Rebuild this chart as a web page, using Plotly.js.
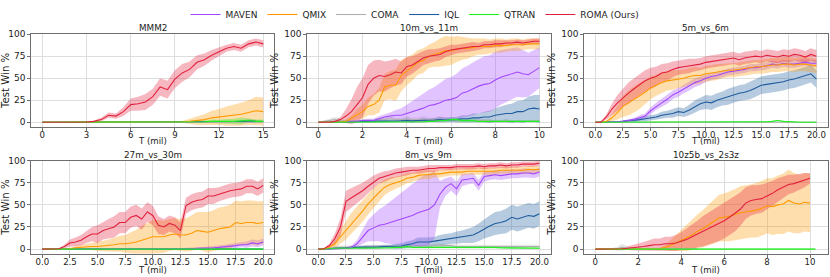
<!DOCTYPE html>
<html><head><meta charset="utf-8">
<script src="https://cdn.plot.ly/plotly-3.0.1.min.js"></script>
<style>html,body{margin:0;padding:0;background:#fff;}#chart{width:830px;height:277px;}</style>
</head><body><div id="chart"></div>
<script>
// ---------- data ----------
const methods = ['MAVEN','QMIX','COMA','IQL','QTRAN','ROMA (Ours)'];
const titles = ['MMM2','10m_vs_11m','5m_vs_6m','27m_vs_30m','8m_vs_9m','10z5b_vs_2s3z'];
const yTicks = [0,25,50,75,100];
const xTicksMMM2 = [0,3,6,9,12,15];
const xTicks10 = [0,2,4,6,8,10];
const xTicks20 = [0,2.5,5,7.5,10,12.5,15,17.5,20];
const xTickText20 = ['0.0','2.5','5.0','7.5','10.0','12.5','15.0','17.5','20.0'];
// sampling steps of T (mil) per panel
const stepMMM2 = 0.5, step10m = 0.25, step5m = 0.5, step27m = 0.5, step8m = 0.5, step10z = 0.25;

// MMM2
const mmm2_ROMA = [0,0,0,0,0,0,0.3,1,3,8,7,12,20,21,23,29,40,37,49,56,60,68,71,76,80,84,86,84,89,91,89];
const mmm2_ROMA_sd = [0,0,0,0,0,0,0.3,1,2,3,3,5,7,8,9,9,10,10,10,10,9,8,7,6,5,4,4,4,4,4,4];
const mmm2_QMIX = [0,0,0,0,0,0,0,0,0,0,0,0,0,0,0,0,0,0,0,0.5,1,2,3,5,6,7,8,9,11,13,12];
const mmm2_QMIX_sd = [0,0,0,0,0,0,0,0,0,0,0,0,0,0,0,0,0,0,0,1,3,5,6,8,9,11,12,13,14,16,16];
const mmm2_QTRAN = [0,0,0,0,0,0,0,0,0,0,0,0,0,0,0,0,0,0,0.3,0.5,0.5,0.8,0.5,1,0.8,1.2,1,1.5,2,1,1];
const mmm2_QTRAN_sd = [0.8,0.8,0.8,0.8,0.8,0.8,0.8,0.8,0.8,0.8,0.8,0.8,0.8,0.8,0.8,0.8,0.8,0.8,1,1,1,1.5,1.5,2,2,2.5,3,4,2,2,2];
const mmm2_IQL = [0,0,0,0,0,0,0,0,0,0,0,0,0,0,0,0,0,0,0.2,0.3,0.3,0.3,0.5,0.5,0.5,0.5,0.8,1,1.5,1,0.8];
const mmm2_IQL_sd = [0.3,0.3,0.3,0.3,0.3,0.3,0.3,0.3,0.3,0.3,0.3,0.3,0.3,0.3,0.3,0.3,0.3,0.3,0.5,0.5,0.5,0.5,0.5,0.5,0.5,0.5,0.5,1,2,1.5,1];
const mmm2_COMA = [0,0,0,0,0,0,0,0,0,0,0,0,0,0,0,0,0,0,0,0,0,0,0,0,0,0,0,0,0,0,0];
const mmm2_COMA_sd = [0.3,0.3,0.3,0.3,0.3,0.3,0.3,0.3,0.3,0.3,0.3,0.3,0.3,0.3,0.3,0.3,0.3,0.3,0.3,0.3,0.3,0.3,0.3,0.3,0.3,0.3,0.3,0.3,0.3,0.3,0.3];

// 10m_vs_11m
const m10_ROMA = [0,0,0,1,3,7,12,20,28,43,50,53,52,54,57,56,63,65,69,73,75,76,77,80,82,83,84,85,86,86,88,88,89,89,90,90,91,90,91,92,92];
const m10_ROMA_sd = [0,0,0.5,1,3,8,14,20,22,22,20,18,17,16,15,13,11,10,9,8,8,7,7,6,6,5,5,5,5,4,4,4,4,4,3,3,3,3,3,3,3];
const m10_QMIX = [0,0,0,0,0.5,1,5,9,12,18,20,25,40,42,42,53,58,62,68,70,75,77,79,81,81,83,84,84,85,86,86,86,87,87,87,88,88,88,89,89,89];
const m10_QMIX_sd = [0,0,0,0,1,2,3,6,8,10,12,14,15,16,18,18,16,15,14,14,13,14,16,17,16,15,13,12,10,9,9,8,8,8,7,7,7,6,6,6,6];
const m10_MAVEN = [0,0,0,0,0,0.5,1,1,2,2,2,4,6,7,8,8,10,12,14,16,19,20,22,25,26,28,33,35,38,41,43,44,48,51,53,55,57,55,54,58,62];
const m10_MAVEN_sd = [0,0,0,0,0,1,1,1,1,2,2,3,3,4,6,8,10,12,14,16,18,20,22,24,25,27,28,29,30,31,32,32,32,31,30,29,28,27,25,24,23];
const m10_IQL = [0,0,0,0,0,0,0.5,0.5,1,1,1,1,1.5,1,1,1.5,2,1.5,2,2,2,2.5,3,2.5,3,3,4,4,5,5,6,6,8,9,10,10,12,12,15,16,15];
const m10_IQL_sd = [0,0,0,0,0,0,1,1,1,1,1,1,1,1,1,1,2,2,2,2,2,2,3,3,3,3,4,4,5,5,6,7,8,9,10,11,12,13,14,15,16];
const m10_COMA = [0,1,2,3,2,1,1,1,2,2,2,3,3,4,3,3,4,3,3,4,3,3,4,3,3,2,2,2,2,2,2,2,1,1,2,1,1,1,1,1,1];
const m10_COMA_sd = [0,1,2,3,2,1,1,1,2,2,2,2,2,3,2,2,3,2,2,3,2,2,3,2,2,2,2,2,2,2,2,2,1,1,2,1,1,1,1,1,1];
const m10_QTRAN = [0,0,0,0,0,0,0,0,0.5,0.5,0.5,0.5,0.5,0.5,0.5,0.5,0.5,0.5,0.5,0.5,1,1,2,2,3,3,2,2,2,1,1,1,1,1,1,1,1,1,1,1,1];
const m10_QTRAN_sd = [0.5,0.5,0.5,0.5,0.5,0.5,0.5,0.5,1,1,1,1,1,1,1,1,1,1,1,1,1,1,1.5,2,2,2,2,1.5,1.5,1,1,1,1,1,1,1,1,1,1,1,1];

// 5m_vs_6m
const m5_ROMA = [0,0,6,15,22,28,33,38,43,47,50,52,56,57,60,62,63,64,65,66,68,69,70,71,72,73,71,73,74,75,74,76,75,74,76,75,77,76,74,77,75];
const m5_ROMA_sd = [0,0,3,6,9,10,12,12,12,12,12,11,10,10,9,8,8,8,7,7,7,7,7,7,7,7,7,7,7,7,7,7,7,7,7,7,7,7,7,7,7];
const m5_QMIX = [0,0,1,5,11,18,22,26,30,34,39,42,45,47,48,49,50,52,53,53,55,56,57,58,59,59,60,61,62,63,63,64,65,65,66,66,65,66,66,65,64];
const m5_QMIX_sd = [0,0,1,4,8,12,14,15,15,14,13,12,12,11,11,10,10,10,10,9,9,9,9,8,8,8,8,8,8,8,8,8,8,8,8,8,8,8,8,8,8];
const m5_MAVEN = [0,0,0,0,0.5,1,2,3,5,7,13,18,22,26,31,34,38,41,45,47,50,52,53,55,57,58,59,60,62,62,63,64,66,65,67,66,66,67,68,67,67];
const m5_MAVEN_sd = [0,0,0,0,0.5,1,1,2,3,3,4,4,5,5,5,5,5,5,5,5,4,4,4,4,4,4,4,4,4,4,4,4,4,4,4,4,4,4,4,4,4];
const m5_IQL = [0,0,0,0,0.5,1,1.5,2,3,4,5,6,8,9,10,12,11,14,18,21,23,22,25,27,29,31,33,34,36,39,42,43,44,45,46,48,49,51,53,55,49];
const m5_IQL_sd = [0,0,0,0,0.5,1,1,2,2,3,3,3,4,4,5,5,5,6,7,7,8,8,8,8,9,9,9,9,10,10,10,10,10,10,10,10,10,10,10,10,10];
const m5_QTRAN = [0,0,0,0,0,0,0,0,0,0,0,0,0,0,0,0,0,0,0,0,0,0,0,0,0,0,0,0,0,0,0,0.5,1,2,1,0.5,0,0,0,0,0];
const m5_QTRAN_sd = [0.7,0.7,0.7,0.7,0.7,0.7,0.7,0.7,0.7,0.7,0.7,0.7,0.7,0.7,0.7,0.7,0.7,0.7,0.7,0.7,0.7,0.7,0.7,0.7,0.7,0.7,0.7,0.7,0.7,0.7,0.7,0.7,0.7,0.7,0.7,0.7,0.7,0.7,0.7,0.7,0.7];
const m5_COMA = [0,0,0,0,0,0,0,0,0,0,0,0,0,0,0,0,0,0,0,0,0,0,0,0,0,0,0,0,0,0,0,0,0,0,0,0,0,0,0,0,0];
const m5_COMA_sd = [0.5,0.5,0.5,0.5,0.5,0.5,0.5,0.5,0.5,0.5,0.5,0.5,0.5,0.5,0.5,0.5,0.5,0.5,0.5,0.5,0.5,0.5,0.5,0.5,0.5,0.5,0.5,0.5,0.5,0.5,0.5,0.5,0.5,0.5,0.5,0.5,0.5,0.5,0.5,0.5,0.5];

// 27m_vs_30m
const m27_ROMA = [0,0,0,0.5,3,7,8,10,14,17,17,21,23,25,30,30,36,38,34,42,38,27,25,29,27,21,49,53,55,56,60,60,62,64,66,67,68,71,71,68,72];
const m27_ROMA_sd = [0,0,0,0.5,2,4,5,6,7,8,10,10,11,12,12,12,12,12,12,11,11,10,9,9,9,9,9,9,9,9,9,9,8,8,8,8,8,8,8,8,8];
const m27_QMIX = [0,0,0,0,0,0.5,1.5,2,3,3,3,3.5,4,5,6,6,7,8,10,12,14,14,14,16,17,16,16,18,21,20,19,21,23,24,25,30,29,30,30,29,30];
const m27_QMIX_sd = [0,0,0,0,0,1,2,3,3,4,5,6,7,8,9,10,12,14,16,18,19,19,18,18,18,18,19,20,21,22,23,23,24,24,25,25,25,25,25,25,24];
const m27_MAVEN = [0,0,0,0,0,0,0,0,0,0,0,0,0,0,0,0,0,0,0,0,0,0,0,0,0,0,0.5,0.5,1,1,1,1.5,2,2.5,3,4,5,5,7,6,8];
const m27_MAVEN_sd = [0.5,0.5,0.5,0.5,0.5,0.5,0.5,0.5,0.5,0.5,0.5,0.5,0.5,0.5,0.5,0.5,0.5,0.5,0.5,0.5,0.5,0.5,0.5,0.5,0.5,0.5,1,1,1,1.5,2,2,2,2.5,3,3,3,3.5,4,4,4];
const m27_IQL = [0,0,0,0,0,0,0,0,0,0,0,0,0,0,0,0,0,0,0,0,0,0,0,0,0,0,0,0,0,0,0,0,0,0,0,0,0,0,0,0,0];
const m27_IQL_sd = [0.5,0.5,0.5,0.5,0.5,0.5,0.5,0.5,0.5,0.5,0.5,0.5,0.5,0.5,0.5,0.5,0.5,0.5,0.5,0.5,0.5,0.5,0.5,0.5,0.5,0.5,0.5,0.5,0.5,0.5,0.5,0.5,0.5,0.5,0.5,0.5,0.5,0.5,0.5,0.5,0.5];
const m27_QTRAN = [0,0,0,0,0,0,0,0,0,0,0,0,0,0,0,0,0,0,0,0,0,0,0,0,0,0,0,0,0,0,0,0,0,0,0,0,0,0,0,0,0];
const m27_QTRAN_sd = [1,1,1,1,1,1,1,1,1,1,1,1,1,1,1,1,1,1,1,1,1,1,1,1,1,1,1,1,1,1,1,1,1,1,1,1,1,1,1,1,1];

// 8m_vs_9m
const m8_ROMA = [0,0.5,4,12,25,54,58,62,66,71,76,80,82,84,86,87,88,89,89,90,91,91,92,92,92,93,93,93,93,94,93,94,94,95,94,95,95,96,96,96,97];
const m8_ROMA_sd = [0,0.5,2,6,10,12,11,10,9,8,7,6,6,5,5,5,5,4,4,4,4,4,3,3,3,3,3,3,3,3,3,3,3,3,3,3,3,3,3,3,3];
const m8_QMIX = [0,0,2,6,14,21,29,36,43,51,58,64,70,73,75,77,80,81,83,84,84,85,85,86,87,87,87,88,88,88,88,88,88,89,89,89,89,89,90,90,90];
const m8_QMIX_sd = [0,0,1,4,8,10,12,12,12,12,11,10,9,8,7,6,6,5,5,5,5,4,4,4,4,4,4,4,4,4,4,4,4,4,4,4,4,4,4,4,4];
const m8_MAVEN = [0,0,0,0,0.5,1,2,6,14,21,24,27,28,30,32,34,36,38,41,43,45,50,62,70,74,68,78,79,80,72,82,83,84,83,84,85,85,86,86,85,87];
const m8_MAVEN_sd = [0,0,0,0,0.5,1,2,4,8,12,15,18,21,24,27,30,33,36,38,40,40,38,15,10,8,8,7,6,6,6,6,5,5,5,5,5,5,5,5,5,5];
const m8_IQL = [0,0,0.5,1,1,1.5,2,2,2,2,2,2.5,3,3,3,3.5,5,6,8,8,8,9,10,11,12,13,14,15,16,19,23,26,29,30,32,36,34,36,38,37,40];
const m8_IQL_sd = [0,0,1,1,1,1,1,1,2,2,2,2,2,2,3,3,4,4,5,5,5,5,6,6,6,7,7,8,9,10,11,12,13,13,14,14,14,14,14,14,14];
const m8_COMA = [0,0,1,2,2,2,2,2,2,3,3,3,3,3,3,3,3,3,3,3,3,4,4,4,4,3,3,3,3,3,3,3,3,3,3,3,3,3,3,3,3];
const m8_COMA_sd = [0,0,1,2,2,2,2,2,2,2,2,2,2,2,2,2,2,2,2,2,2,2,2,2,2,2,2,2,2,2,2,2,2,2,2,2,2,2,2,2,2];
const m8_QTRAN = [0,0,0.5,1,1,1,1,1,1,1,1,1.5,1.5,1.5,2,2,3,2,2,2,2,2,2,2,2,2,2,2,2.5,2.5,2.5,2,2,1.5,1.5,1.5,1,1,1,1,1];
const m8_QTRAN_sd = [0.5,0.5,1,1,1,1,1,1,1,1,1,1,1,1,1,1,2,1,1,1,1,1,1,1,1,1,1,1,1,1,1,1,1,1,1,1,1,1,1,1,1];

// 10z5b_vs_2s3z
const z10_ROMA = [0,0,0,0,0,0.5,1,1.5,2,3,4,5,5,6,6,7,9,11,14,17,20,23,26,29,32,36,40,45,52,55,56,57,60,63,67,70,73,74,76,78,80];
const z10_ROMA_sd = [0,0,0,0,0.5,1,2,3,4,5,6,7,7,8,8,9,10,12,14,15,17,18,19,20,20,20,20,19,18,17,16,16,15,14,13,12,11,10,9,8,6];
const z10_QMIX = [0,0,0,0,0,0,0,0,0,0,0,0,0.5,2,4,7,10,13,16,20,23,27,31,35,36,37,39,41,42,43,44,46,49,48,50,51,55,52,51,53,52];
const z10_QMIX_sd = [0,0,0,0,0,0,0,0,0,0,0,0,1,3,6,9,12,15,17,19,21,23,25,26,27,28,29,30,30,30,31,31,31,32,33,34,35,34,33,33,33];
const z10_COMA = [0,0,0,0,0.5,2,1,0.5,0.5,0.5,0.5,0.5,0.5,0.5,0.5,0.5,0.5,0.5,0.5,0.5];
const z10_COMA_sd = [0,0,0,1,2,4,2,1,1,1,1,1,1,1,1,1,1,1,1,1];
const z10_QTRAN = [0,0,0,0,0,0,0,0,0,0,0,0,0,0,0,0,0,0,0,0,0,0,0,0,0,0,0,0,0,0,0,0,0,0,0,0,0,0,0,0,0,0];
const z10_QTRAN_sd = [1,1,1,1,1,1,1,1,1,1,1,1,1,1,1,1,1,1,1,1,1,1,1,1,1,1,1,1,1,1,1,1,1,1,1,1,1,1,1,1,1,1];

// ---------- styles ----------
const COLORS = {'MAVEN':[163,71,255],'QMIX':[255,153,0],'COMA':[176,176,176],'IQL':[31,92,158],'QTRAN':[34,238,34],'ROMA (Ours)':[227,32,60]};
const RANK = {'MAVEN':1,'QMIX':2,'COMA':3,'IQL':4,'QTRAN':5,'ROMA (Ours)':6};
const DRAW_ORDER = ['COMA','IQL','MAVEN','QMIX','QTRAN','ROMA (Ours)'];

const panels = [
  {step: stepMMM2, series: {'ROMA (Ours)':[mmm2_ROMA,mmm2_ROMA_sd], QMIX:[mmm2_QMIX,mmm2_QMIX_sd], QTRAN:[mmm2_QTRAN,mmm2_QTRAN_sd], IQL:[mmm2_IQL,mmm2_IQL_sd], COMA:[mmm2_COMA,mmm2_COMA_sd]},
   range:[-0.75,15.75], tv:xTicksMMM2, tt:xTicksMMM2.map(String)},
  {step: step10m, series: {'ROMA (Ours)':[m10_ROMA,m10_ROMA_sd], QMIX:[m10_QMIX,m10_QMIX_sd], MAVEN:[m10_MAVEN,m10_MAVEN_sd], IQL:[m10_IQL,m10_IQL_sd], COMA:[m10_COMA,m10_COMA_sd], QTRAN:[m10_QTRAN,m10_QTRAN_sd]},
   range:[-0.5,10.5], tv:xTicks10, tt:xTicks10.map(String)},
  {step: step5m, series: {'ROMA (Ours)':[m5_ROMA,m5_ROMA_sd], QMIX:[m5_QMIX,m5_QMIX_sd], MAVEN:[m5_MAVEN,m5_MAVEN_sd], IQL:[m5_IQL,m5_IQL_sd], COMA:[m5_COMA,m5_COMA_sd], QTRAN:[m5_QTRAN,m5_QTRAN_sd]},
   range:[-1,21], tv:xTicks20, tt:xTickText20},
  {step: step27m, series: {'ROMA (Ours)':[m27_ROMA,m27_ROMA_sd], QMIX:[m27_QMIX,m27_QMIX_sd], MAVEN:[m27_MAVEN,m27_MAVEN_sd], IQL:[m27_IQL,m27_IQL_sd], QTRAN:[m27_QTRAN,m27_QTRAN_sd]},
   range:[-1,21], tv:xTicks20, tt:xTickText20},
  {step: step8m, series: {'ROMA (Ours)':[m8_ROMA,m8_ROMA_sd], QMIX:[m8_QMIX,m8_QMIX_sd], MAVEN:[m8_MAVEN,m8_MAVEN_sd], IQL:[m8_IQL,m8_IQL_sd], COMA:[m8_COMA,m8_COMA_sd], QTRAN:[m8_QTRAN,m8_QTRAN_sd]},
   range:[-1,21], tv:xTicks20, tt:xTickText20},
  {step: step10z, series: {'ROMA (Ours)':[z10_ROMA,z10_ROMA_sd], QMIX:[z10_QMIX,z10_QMIX_sd], COMA:[z10_COMA,z10_COMA_sd], QTRAN:[z10_QTRAN,z10_QTRAN_sd]},
   range:[-0.515,10.815], tv:xTicks10, tt:xTicks10.map(String)}
];

const W = 830, H = 277;
const colPx = [[31.3,274.3],[307.3,550.5],[584.3,827.5]];
const rowPx = [[31.5,125],[159.3,253.3]];
const xTitleOffset = [15, 17];
const FONT = 'DejaVu Sans, Verdana, sans-serif';

const traces = [];
const shown = {};
const layout = {
  width: W, height: H, margin:{l:0,r:0,t:0,b:0}, paper_bgcolor:'#fff', plot_bgcolor:'#fff',
  font:{family:FONT, size:9, color:'#222'}, showlegend:true,
  legend:{orientation:'h', x:0.5, xanchor:'center', y:1.012, yanchor:'top', font:{size:9, family:FONT}, itemwidth:30, bgcolor:'rgba(0,0,0,0)', traceorder:'normal', tracegroupgap:0},
  annotations:[]
};

panels.forEach((p, i) => {
  const r = Math.floor(i/3), c = i%3;
  const xn = i===0 ? '' : String(i+1);
  const xa = 'x'+xn, ya = 'y'+xn;
  const xd = [colPx[c][0]/W, colPx[c][1]/W];
  const yd = [1-rowPx[r][1]/H, 1-rowPx[r][0]/H];
  layout['xaxis'+xn] = {domain:xd, anchor:ya, range:p.range, tickvals:p.tv, ticktext:p.tt,
    showline:true, mirror:true, linecolor:'#6e6e6e', linewidth:1, ticks:'outside', ticklen:3, tickwidth:1, tickcolor:'#6e6e6e',
    showgrid:true, gridcolor:'#dedede', gridwidth:1, zeroline:false, tickfont:{size:8.6, color:'#222'}, ticklabelstandoff:-3};
  layout['yaxis'+xn] = {domain:yd, anchor:xa, range:[-5,100], tickvals:yTicks,
    showline:true, mirror:true, linecolor:'#6e6e6e', linewidth:1, ticks:'outside', ticklen:3, tickwidth:1, tickcolor:'#6e6e6e',
    showgrid:true, gridcolor:'#dedede', gridwidth:1, zeroline:false, tickfont:{size:9, color:'#222'},
    title:{text:'Test Win %', font:{size:10.2}, standoff:3}};
  layout.annotations.push({text:titles[i], xref:'paper', yref:'paper', x:(xd[0]+xd[1])/2, y:yd[1], xanchor:'center', yanchor:'bottom', yshift:-1, showarrow:false, font:{size:8.8, family:FONT, color:'#222'}});
  layout.annotations.push({text:'T (mil)', xref:'paper', yref:'paper', x:(xd[0]+xd[1])/2, y:1-(rowPx[r][1]+xTitleOffset[r])/H, xanchor:'center', yanchor:'middle', showarrow:false, font:{size:8.6, family:FONT, color:'#222'}});

  // bands
  DRAW_ORDER.forEach(m => {
    if (!p.series[m]) return;
    const [mean, sd] = p.series[m];
    const x = mean.map((_, k) => k*p.step);
    const up = mean.map((v,k) => v + sd[k]);
    const lo = mean.map((v,k) => v - sd[k]);
    const col = COLORS[m];
    traces.push({x: x.concat(x.slice().reverse()), y: up.concat(lo.slice().reverse()), xaxis:xa, yaxis:ya,
      type:'scatter', mode:'lines', fill:'toself', fillcolor:`rgba(${col[0]},${col[1]},${col[2]},0.32)`,
      line:{width:0, color:'rgba(0,0,0,0)'}, hoverinfo:'skip', showlegend:false});
  });
  // lines
  DRAW_ORDER.forEach(m => {
    if (!p.series[m]) return;
    const [mean] = p.series[m];
    const x = mean.map((_, k) => k*p.step);
    const col = COLORS[m];
    const first = !shown[m]; shown[m] = true;
    traces.push({x, y: mean, xaxis:xa, yaxis:ya, type:'scatter', mode:'lines', name:m, legendgroup:m,
      legendrank:RANK[m], showlegend:first, line:{width:1.1, color:`rgb(${col[0]},${col[1]},${col[2]})`}});
  });
});

Plotly.newPlot('chart', traces, layout, {displayModeBar:false, staticPlot:true});
</script></body></html>
